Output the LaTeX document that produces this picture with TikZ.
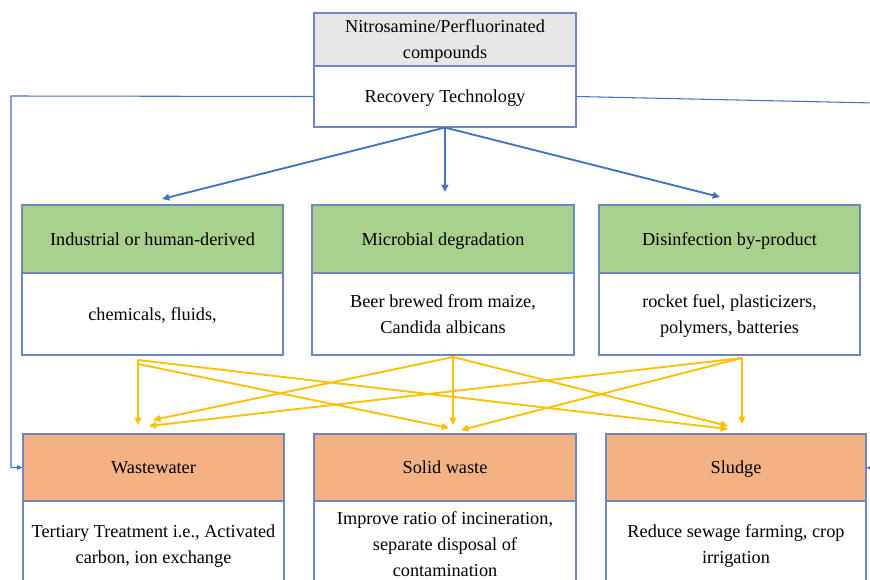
\documentclass[tikz,border=0pt]{standalone}
\usepackage{fontspec}
\setmainfont{Liberation Serif}
\usetikzlibrary{arrows.meta}
\definecolor{bordc}{RGB}{112,134,190}
\definecolor{hdrgray}{RGB}{230,230,230}
\definecolor{hdrgreen}{RGB}{169,209,142}
\definecolor{hdrorange}{RGB}{244,177,131}
\definecolor{blueln}{RGB}{68,114,196}
\definecolor{yelln}{RGB}{255,192,0}
\tikzset{
  part/.style={draw=bordc, line width=0.8pt, rectangle, inner sep=0pt, align=center,
    font=\fontsize{13.7}{19.5}\selectfont, text=black, text depth=-3.5pt},
  bluearrow/.style={draw=blueln, line width=1.4pt, -{Triangle[length=5.5pt,width=5pt]}},
  sideline/.style={draw=blueln, line width=0.8pt},
  sidearrow/.style={draw=blueln, line width=0.8pt, -{Triangle[length=4pt,width=3.5pt]}},
  yarrow/.style={draw=yelln, line width=1.4pt, -{Triangle[length=5.5pt,width=5pt]}}
}
\begin{document}
\begin{tikzpicture}[x=0.75pt,y=-0.75pt]
\useasboundingbox[fill=white] (0,0) rectangle (870,579);
% top box
\node[part, fill=hdrgray, minimum width=196.5pt, minimum height=39.75pt] (th) at (445,39.5) {Nitrosamine/Perfluorinated\\compounds};
\node[part, fill=white, minimum width=196.5pt, minimum height=45.75pt] (tb) at (445,96.5) {Recovery Technology};
% middle boxes
\node[part, fill=hdrgreen, minimum width=195.75pt, minimum height=51pt] (m1h) at (152.5,239) {Industrial or human-derived};
\node[part, fill=white, minimum width=195.75pt, minimum height=61.5pt] (m1b) at (152.5,314) {chemicals, fluids,};
\node[part, fill=hdrgreen, minimum width=196.5pt, minimum height=51pt] (m2h) at (443,239) {Microbial degradation};
\node[part, fill=white, minimum width=196.5pt, minimum height=61.5pt] (m2b) at (443,314) {Beer brewed from maize,\\Candida albicans};
\node[part, fill=hdrgreen, minimum width=195.75pt, minimum height=51pt] (m3h) at (729.5,239) {Disinfection by-product};
\node[part, fill=white, minimum width=195.75pt, minimum height=61.5pt] (m3b) at (729.5,314) {rocket fuel, plasticizers,\\polymers, batteries};
% bottom boxes
\node[part, fill=hdrorange, minimum width=195.75pt, minimum height=50.25pt] (wwh) at (153.5,467.5) {Wastewater};
\node[part, fill=white, minimum width=195.75pt, minimum height=64.5pt] (wwb) at (153.5,544) {Tertiary Treatment i.e., Activated\\carbon, ion exchange};
\node[part, fill=hdrorange, minimum width=196.5pt, minimum height=50.25pt] (swh) at (445,467.5) {Solid waste};
\node[part, fill=white, minimum width=196.5pt, minimum height=64.5pt] (swb) at (445,544) {Improve ratio of incineration,\\separate disposal of\\contamination};
\node[part, fill=hdrorange, minimum width=195pt, minimum height=50.25pt] (slh) at (736,467.5) {Sludge};
\node[part, fill=white, minimum width=195pt, minimum height=64.5pt] (slb) at (736,544) {Reduce sewage farming, crop\\irrigation};
% coordinates
\coordinate (cl) at (11,96);
\coordinate (cr) at (875,103);
\coordinate (cr2) at (880,469);
\coordinate (a1) at (162,199);
\coordinate (a2) at (445,192);
\coordinate (a3) at (720,197);
\coordinate (s1) at (138,360);
\coordinate (s1b) at (138,364);
\coordinate (s2) at (453,357);
\coordinate (s3) at (742,358);
\coordinate (e11) at (138,425);
\coordinate (e12) at (449,428);
\coordinate (e13) at (728,429);
\coordinate (e21) at (153,420);
\coordinate (e22) at (453,425);
\coordinate (e23) at (728,426);
\coordinate (e31) at (149,426);
\coordinate (e32) at (461,430);
\coordinate (e33) at (742,424);
% blue connectors
\draw[sidearrow] (tb.west) -- (cl) |- (wwh.west);
\draw[sideline] (tb.east) -- (cr);
\draw[sidearrow] (cr2) -- (slh.east);
\draw[bluearrow] (tb.south) -- (a1);
\draw[bluearrow] (tb.south) -- (a2);
\draw[bluearrow] (tb.south) -- (a3);
% yellow connectors
\draw[yarrow] (s1) -- (e11);
\draw[yarrow] (s1b) -- (e12);
\draw[yarrow] (s1) -- (e13);
\draw[yarrow] (s2) -- (e21);
\draw[yarrow] (s2) -- (e22);
\draw[yarrow] (s2) -- (e23);
\draw[yarrow] (s3) -- (e31);
\draw[yarrow] (s3) -- (e32);
\draw[yarrow] (s3) -- (e33);
\end{tikzpicture}
\end{document}
